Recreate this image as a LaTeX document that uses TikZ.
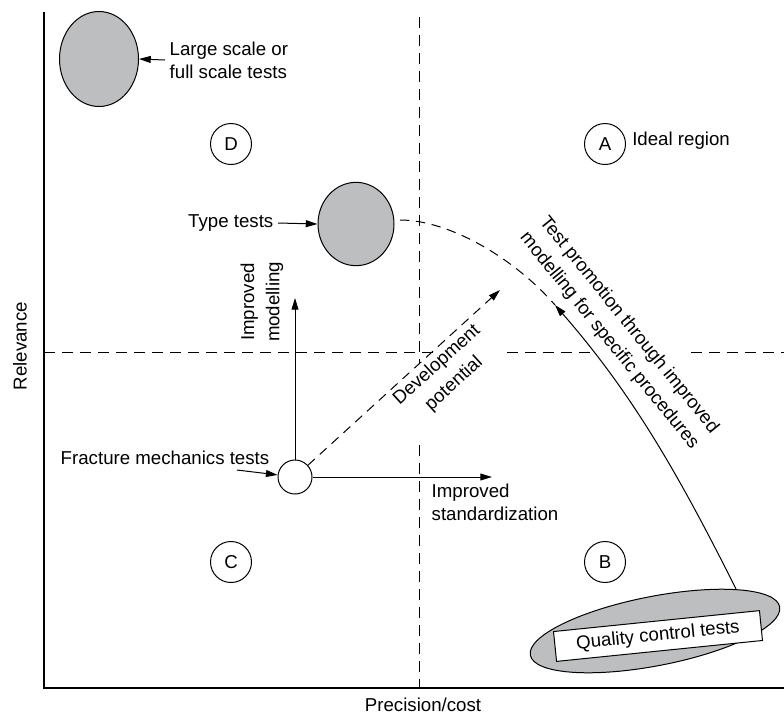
\documentclass[tikz,border=0pt]{standalone}
\usepackage{fontspec}
\setmainfont{Liberation Sans}
\usetikzlibrary{arrows.meta,shapes.geometric}
\definecolor{shade}{HTML}{BCBEC0}
\begin{document}
\begin{tikzpicture}[x=0.75pt,y=-0.75pt,
  font=\fontsize{14}{17}\selectfont,
  wide/.style={font=\fontsize{14}{19}\selectfont},
  ln/.style={line width=0.75pt},
  arr/.style={ln,-{Triangle[length=8.8pt,width=5.2pt]}},
  gridline/.style={line width=0.75pt,dash pattern=on 8.25pt off 5.25pt},
  dashcurve/.style={line width=0.75pt,dash pattern=on 7pt off 5pt},
  letter/.style={circle,draw,line width=0.75pt,minimum size=30.75pt,inner sep=0pt},
  blob/.style={ellipse,draw,fill=shade,line width=0.75pt,inner sep=0pt}]
\useasboundingbox (0,0) rectangle (784,715);

% quadrant lines
\draw[gridline] (44,352) -- (433,352);
\draw[gridline] (507,352) -- (593,352);
\draw[gridline] (691,352) -- (784,352);
\draw[gridline] (419,17) -- (419,363);
\draw[gridline] (419,445) -- (419,688);

% axes
\draw[line width=1pt] (44,12) -- (44,688) -- (784,688);
\node[rotate=90] (ylab) at (20,346) {Relevance};
\node (xlab) at (423,705) {Precision/cost};

% region letters
\node[letter] (D) at (231,144) {D};
\node[letter] (A) at (605,144) {A};
\node[letter] (C) at (231,562) {C};
\node[letter] (B) at (605,562) {B};
\node[anchor=west,inner sep=3pt] (ideal) at (628,141) {Ideal region};

% large scale tests
\node[blob,minimum width=59.25pt,minimum height=71.25pt] (ls) at (99,59) {};
\node[anchor=west,align=left] (lstext) at (165,60) {Large scale or\\full scale tests};
\draw[arr] (lstext.west) -- (ls.east);

% type tests
\node[blob,minimum width=57pt,minimum height=62.5pt] (tt) at (356,224) {};
\node[anchor=east] (tttext) at (278,223) {Type tests};
\draw[arr] (tttext.east) -- (tt.west);

% fracture mechanics tests
\node[circle,draw,fill=white,line width=0.75pt,minimum size=25.5pt,inner sep=0pt] (fm) at (295,477) {};
\node (fmtext) at (165,458) {Fracture mechanics tests};
\coordinate (fmfrom) at (237,470);
\draw[arr] (fmfrom) -- (fm);

\coordinate (imtip) at (295,298);
\coordinate (istip) at (492,477);
\coordinate (devtip) at (500,290);
\draw[arr] (fm) -- (imtip);
\draw[arr] (fm) -- (istip);
\node[wide,rotate=90,align=center] (imtext) at (262,302) {Improved\\modelling};
\node[anchor=west,align=left] (istext) at (427,502) {Improved\\standardization};
\draw[ln,dashcurve,-{Triangle[length=8.8pt,width=5.2pt]}] (fm) -- (devtip)
  node[wide,pos=0.626,sloped,anchor=north,align=center,inner sep=3pt] (devtext) {Development\\potential};

% quality control tests
\node[blob,rotate=11,minimum width=190.5pt,minimum height=52pt] (qc) at (655,631) {};
\node[draw,fill=white,line width=0.75pt,rotate=5.8,minimum width=155.25pt,minimum height=22.5pt,inner sep=0pt] (qcbox) at (658,636) {Quality control tests};

% test promotion curve
\node[wide,rotate=-51,align=center] (promo) at (619,333) {Test promotion through improved\\modelling for specific procedures};
\coordinate (cs) at (400,220);
\coordinate (cm) at (555,305);
\coordinate (qs) at (736,589);
\draw[dashcurve] (cs) .. controls (450,220) and (515,259) .. (cm);
\draw[arr] (qs) .. controls (676,469) and (630,391) .. (cm);
\end{tikzpicture}
\end{document}
